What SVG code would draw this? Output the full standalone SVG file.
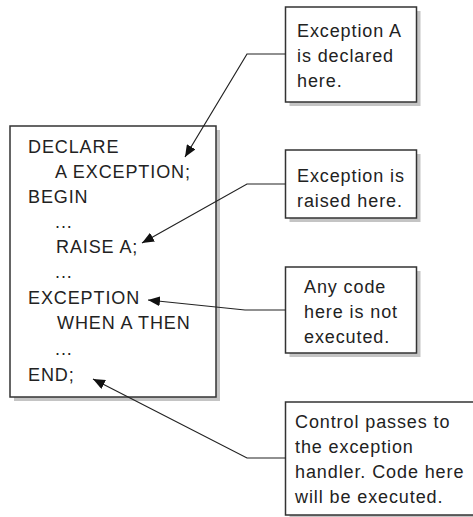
<svg xmlns="http://www.w3.org/2000/svg" width="473" height="517" viewBox="0 0 473 517">
  <defs>
    <style>
      .shadow { fill: #c4c4c4; stroke: none; }
      .box { fill: #ffffff; stroke: #333333; stroke-width: 1.5; }
      .txt { font-family: "Liberation Sans", Arial, sans-serif; font-size: 18px; letter-spacing: 0.9px; fill: #222222; }
      .conn { fill: none; stroke: #222222; stroke-width: 1.2; }
    </style>
    <marker id="arrow" viewBox="0 0 12 10" refX="12" refY="5" markerWidth="12" markerHeight="10" markerUnits="userSpaceOnUse" orient="auto">
      <path d="M0,0 L12,5 L0,10 z" fill="#111111"/>
    </marker>
  </defs>
  <rect width="473" height="517" fill="#ffffff"/>

  <!-- PL/SQL block -->
  <g id="code-block">
    <rect class="shadow" x="14" y="130" width="206" height="271"/>
    <rect class="box" x="10" y="126" width="206" height="271"/>
    <text class="txt" x="28" y="153">DECLARE</text>
    <text class="txt" x="55" y="178">A EXCEPTION;</text>
    <text class="txt" x="28" y="203">BEGIN</text>
    <text class="txt" x="55" y="228">...</text>
    <text class="txt" x="56" y="253">RAISE A;</text>
    <text class="txt" x="55" y="278">...</text>
    <text class="txt" x="28" y="304">EXCEPTION</text>
    <text class="txt" x="57" y="329">WHEN A THEN</text>
    <text class="txt" x="55" y="355">...</text>
    <text class="txt" x="28" y="381">END;</text>
  </g>

  <!-- Callout: declaration -->
  <g id="note-declared">
    <rect class="shadow" x="289.5" y="11" width="131" height="95"/>
    <rect class="box" x="285.5" y="7" width="131" height="95"/>
    <text class="txt" x="297" y="37">Exception A</text>
    <text class="txt" x="297" y="62">is declared</text>
    <text class="txt" x="297" y="87">here.</text>
  </g>

  <!-- Callout: raise -->
  <g id="note-raised">
    <rect class="shadow" x="289.5" y="154" width="131" height="68"/>
    <rect class="box" x="285.5" y="150" width="131" height="68"/>
    <text class="txt" x="297" y="182">Exception is</text>
    <text class="txt" x="297" y="207">raised here.</text>
  </g>

  <!-- Callout: skipped code -->
  <g id="note-skipped">
    <rect class="shadow" x="289.5" y="271" width="131" height="86"/>
    <rect class="box" x="285.5" y="267" width="131" height="86"/>
    <text class="txt" x="304" y="293">Any code</text>
    <text class="txt" x="304" y="318">here is not</text>
    <text class="txt" x="304" y="343">executed.</text>
  </g>

  <!-- Callout: handler -->
  <g id="note-handler">
    <rect class="shadow" x="289.5" y="406" width="200" height="113"/>
    <rect class="box" x="285.5" y="402" width="200" height="113"/>
    <text class="txt" x="295" y="428">Control passes to</text>
    <text class="txt" x="295" y="453">the exception</text>
    <text class="txt" x="295" y="478">handler. Code here</text>
    <text class="txt" x="295" y="503">will be executed.</text>
  </g>

  <!-- Leader lines -->
  <g id="connectors">
    <polyline class="conn" points="285.5,54 247,54 185,157" marker-end="url(#arrow)"/>
    <polyline class="conn" points="285.5,184 247,184 142,243" marker-end="url(#arrow)"/>
    <polyline class="conn" points="285.5,310 245,310 148,300" marker-end="url(#arrow)"/>
    <polyline class="conn" points="285.5,458 247,458 93,379" marker-end="url(#arrow)"/>
  </g>
</svg>
